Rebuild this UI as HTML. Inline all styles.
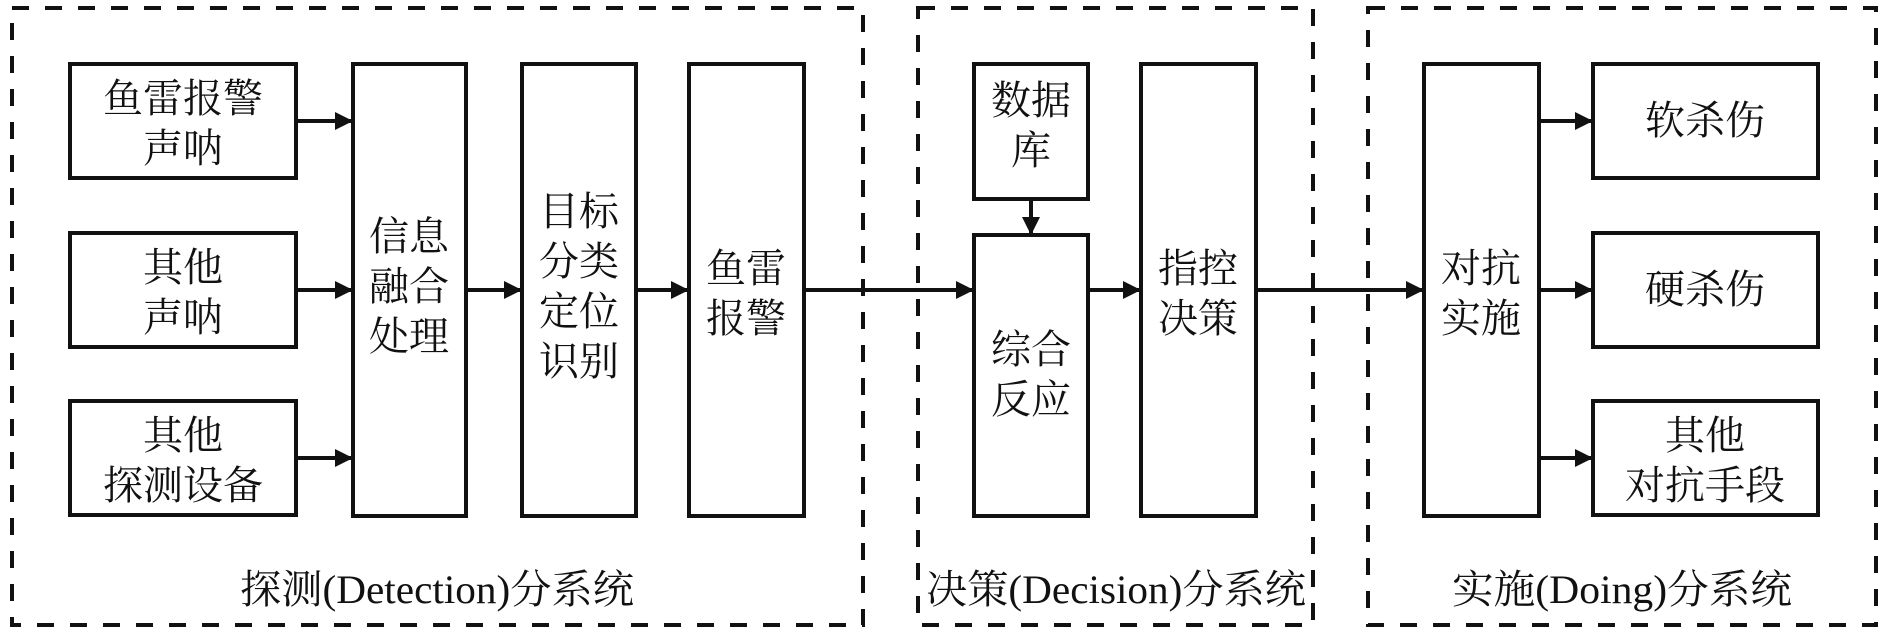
<!DOCTYPE html>
<html><head><meta charset="utf-8"><style>
html,body{margin:0;padding:0;background:#fff}
svg{display:block}
text{font-family:"Liberation Serif","Noto Serif CJK SC",serif;fill:#111;font-size:40px}
</style></head><body>
<svg width="1890" height="635" viewBox="0 0 1890 635" xmlns="http://www.w3.org/2000/svg">
<defs><marker id="a" markerWidth="8" markerHeight="8" refX="7" refY="4" orient="auto" markerUnits="userSpaceOnUse" viewBox="0 0 8 8"><path d="M0,0 L8,4 L0,8z" fill="#111"/></marker>
<marker id="ah" viewBox="0 0 10 10" refX="10" refY="5" markerWidth="18" markerHeight="18" markerUnits="userSpaceOnUse" orient="auto"><path d="M0,0 L10,5 L0,10z" fill="#111"/></marker></defs>
<g fill="none" stroke="#111" stroke-width="4" stroke-dasharray="17 16">
<rect x="12" y="8" width="851" height="617"/>
<rect x="918" y="8" width="395" height="617"/>
<rect x="1368" y="8" width="508" height="617"/>
</g>
<g fill="#fff" stroke="#111" stroke-width="4">
<rect x="70" y="64" width="226" height="114"/>
<rect x="70" y="233" width="226" height="114"/>
<rect x="70" y="401" width="226" height="114"/>
<rect x="353" y="64" width="113" height="452"/>
<rect x="522" y="64" width="114" height="452"/>
<rect x="689" y="64" width="115" height="452"/>
<rect x="974" y="64" width="114" height="135"/>
<rect x="974" y="235" width="114" height="281"/>
<rect x="1141" y="64" width="115" height="452"/>
<rect x="1424" y="64" width="115" height="452"/>
<rect x="1593" y="64" width="225" height="114"/>
<rect x="1593" y="233" width="225" height="114"/>
<rect x="1593" y="401" width="225" height="114"/>
</g>
<g stroke="#111" stroke-width="4" marker-end="url(#ah)">
<line x1="296" y1="121" x2="353" y2="121"/>
<line x1="296" y1="290" x2="353" y2="290"/>
<line x1="296" y1="458" x2="353" y2="458"/>
<line x1="466" y1="290" x2="522" y2="290"/>
<line x1="636" y1="290" x2="689" y2="290"/>
<line x1="804" y1="290" x2="974" y2="290"/>
<line x1="1088" y1="290" x2="1141" y2="290"/>
<line x1="1256" y1="290" x2="1424" y2="290"/>
<line x1="1031" y1="199" x2="1031" y2="235"/>
<line x1="1539" y1="121" x2="1593" y2="121"/>
<line x1="1539" y1="290" x2="1593" y2="290"/>
<line x1="1539" y1="458" x2="1593" y2="458"/>
</g>
<g text-anchor="middle">
<text x="183" y="112">鱼雷报警</text><text x="183" y="162">声呐</text>
<text x="183" y="281">其他</text><text x="183" y="331">声呐</text>
<text x="183" y="449">其他</text><text x="183" y="499">探测设备</text>
<text x="409" y="250">信息</text><text x="409" y="300">融合</text><text x="409" y="350">处理</text>
<text x="579" y="225">目标</text><text x="579" y="275">分类</text><text x="579" y="325">定位</text><text x="579" y="375">识别</text>
<text x="746" y="282">鱼雷</text><text x="746" y="332">报警</text>
<text x="1031" y="114">数据</text><text x="1031" y="164">库</text>
<text x="1031" y="363">综合</text><text x="1031" y="413">反应</text>
<text x="1198" y="282">指控</text><text x="1198" y="332">决策</text>
<text x="1481" y="282">对抗</text><text x="1481" y="332">实施</text>
<text x="1705" y="134">软杀伤</text>
<text x="1705" y="303">硬杀伤</text>
<text x="1705" y="449">其他</text><text x="1705" y="499">对抗手段</text>
</g>
<text x="240" y="603" textLength="394" lengthAdjust="spacingAndGlyphs">探测(Detection)分系统</text>
<text x="926" y="603" textLength="380" lengthAdjust="spacingAndGlyphs">决策(Decision)分系统</text>
<text x="1452" y="603" textLength="340" lengthAdjust="spacingAndGlyphs">实施(Doing)分系统</text>
</svg>
</body></html>
